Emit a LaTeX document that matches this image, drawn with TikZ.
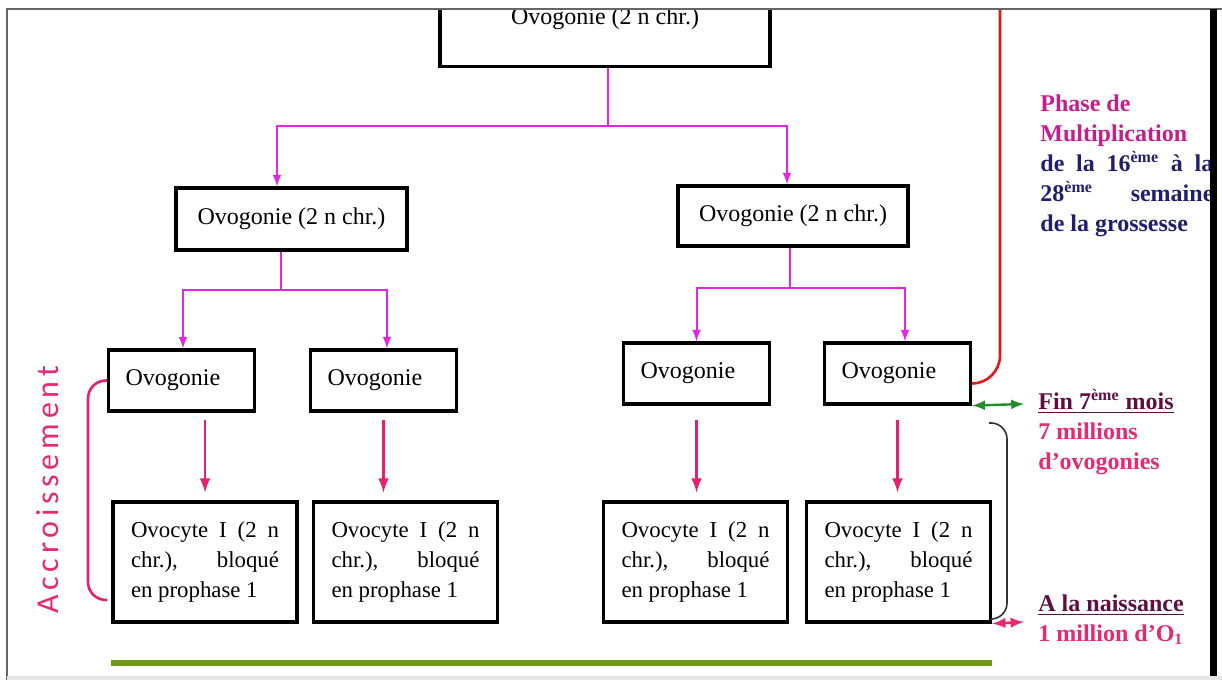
\documentclass[tikz,border=0pt]{standalone}
\usepackage{fontspec}
\setmainfont{Liberation Serif}
\newfontfamily\accfont{Carlito}
\usepackage{tikz}
\usetikzlibrary{shapes,arrows,positioning,calc}
\definecolor{ovomagenta}{RGB}{228,38,228}
\definecolor{ovocrimson}{RGB}{230,32,108}
\definecolor{ovored}{RGB}{228,24,24}
\definecolor{ovogreen}{RGB}{34,140,44}
\definecolor{ovoolive}{RGB}{112,152,24}
\definecolor{ovonavy}{RGB}{32,30,112}
\definecolor{ovopurple}{RGB}{198,28,140}
\definecolor{ovomaroon}{RGB}{96,14,64}
\definecolor{ovopink}{RGB}{232,40,112}

\begin{document}
\begin{tikzpicture}[x=0.5pt,y=-0.5pt,
    ovobox/.style={draw,line width=1.6pt,fill=white,inner sep=0pt,font=\fontsize{12}{15}\selectfont},
    gonbox/.style={ovobox,text width=56pt,inner xsep=8.5pt,minimum height=30.5pt,align=left},
    cytebox/.style={ovobox,text width=74pt,inner xsep=9pt,minimum height=60pt,align=justify,font=\fontsize{11.4}{15}\selectfont},
    mgline/.style={ovomagenta,line width=1pt},
    mgarrow/.style={mgline,-latex},
    crarrow/.style={ovocrimson,line width=1.4pt,-latex,shorten <=3.5pt,shorten >=4pt},
    sidetext/.style={anchor=north west,inner sep=0pt,font=\bfseries\fontsize{12}{15}\selectfont}]
    \useasboundingbox (0,0) rectangle (1222,680);
    % first cell, cut by the page edge
    \begin{scope}
        \clip (0,9) rectangle (1222,680);
        \node[ovobox,anchor=south,minimum width=165pt,text height=14pt,text depth=17pt,inner ysep=4pt] (o0) at (605,68) {Ovogonie (2 n chr.)};
    \end{scope}
    % divisions
    \node[ovobox,minimum width=115.5pt,minimum height=31pt] (o1) at (291.5,219) {Ovogonie (2 n chr.)};
    \node[ovobox,minimum width=115pt,minimum height=30pt] (o2) at (793,216) {Ovogonie (2 n chr.)};
    \node[gonbox] (o11) at (181.5,380.5) {Ovogonie};
    \node[gonbox] (o12) at (383.5,380.5) {Ovogonie};
    \node[gonbox] (o21) at (696.5,373.5) {Ovogonie};
    \node[gonbox] (o22) at (897.5,373.5) {Ovogonie};
    % oocytes
    \node[cytebox] (v11) at (205,562) {Ovocyte I (2 n\linebreak chr.), bloqué\linebreak en prophase 1};
    \node[cytebox] (v12) at (405.5,562) {Ovocyte I (2 n\linebreak chr.), bloqué\linebreak en prophase 1};
    \node[cytebox] (v21) at (695.5,562) {Ovocyte I (2 n\linebreak chr.), bloqué\linebreak en prophase 1};
    \node[cytebox] (v22) at (898.5,562) {Ovocyte I (2 n\linebreak chr.), bloqué\linebreak en prophase 1};
    % tree
    \draw[mgline] ([xshift=1.5pt]o0.south) -- ++(0,58) coordinate (j0);
    \draw[mgarrow] (j0) -| ([xshift=-7.25pt]o1.north);
    \draw[mgarrow] (j0) -| ([xshift=-3pt]o2.north);
    \draw[mgline] ([xshift=-5.25pt]o1.south) -- ++(0,38) coordinate (j1);
    \draw[mgarrow] (j1) -| ([xshift=0.75pt]o11.north);
    \draw[mgarrow] (j1) -| ([xshift=1.75pt]o12.north);
    \draw[mgline] ([xshift=-1.5pt]o2.south) -- ++(0,40) coordinate (j2);
    \draw[mgarrow] (j2) -| (o21.north);
    \draw[mgarrow] (j2) -| ([xshift=3.75pt]o22.north);
    % growth
    \draw[crarrow] (o11.south -| v11.north) -- (v11.north);
    \draw[crarrow] (o12.south) -- (o12.south |- v12.north);
    \draw[crarrow,shorten <=7pt] (o21.south) -- (o21.south |- v21.north);
    \draw[crarrow,shorten <=7pt] (o22.south) -- (o22.south |- v22.north);
    \draw[ovocrimson,line width=1.3pt,rounded corners=9pt] (o11.west) -- (88,380.5) -- (88,600) -- (107,600);
    \node[rotate=90,inner sep=0pt,text=ovopink,font=\accfont\fontsize{16}{16}\selectfont\addfontfeature{LetterSpace=15}] (acc) at (48,490) {Accroissement};
    % right side
    \coordinate (topr) at (1000,9);
    \coordinate (finend) at (1024,404);
    \coordinate (naisend) at (1024,622);
    \draw[ovored,line width=1.3pt,rounded corners=14pt] ([yshift=-5pt]o22.east) -| (topr);
    \draw[ovogreen,line width=1.2pt,latex-latex] (o22.south east) -- (finend);
    \draw[ovopink,line width=1.3pt,latex-latex] (v22.south east) -- (naisend);
    \draw[black!80,line width=0.8pt,rounded corners=8pt] (989,423) -- (1007,423) -- (1007,619) -- (992,619);
    \node[sidetext,text width=86.5pt,align=justify] (phase) at (1040,94) {\color{ovopurple}Phase de\\ Multiplication\\ \color{ovonavy}de la 16\textsuperscript{ème} à la\linebreak 28\textsuperscript{ème} semaine\linebreak de la grossesse};
    \node[sidetext,align=left,text=ovopink] (fin) at (1038,389) {\textcolor{ovomaroon}{\underline{Fin 7\textsuperscript{ème} mois}}\\ 7 millions\\ d’ovogonies};
    \node[sidetext,align=left,text=ovopink] (nais) at (1038,594) {\textcolor{ovomaroon}{\underline{A la naissance}}\\ 1 million d’O\textsubscript{1}};
    \draw[ovoolive,line width=3pt] ([yshift=-19.5pt]v11.south west) -- ([yshift=-19.5pt]v22.south east);
    % page frame
    \draw[black!60,line width=1pt] (7,680) -- (7,9) -- (1222,9);
    \fill (1210,9) rectangle (1217,676);
    \fill[black!10] (7,676) rectangle (1222,680);
\end{tikzpicture}
\end{document}
